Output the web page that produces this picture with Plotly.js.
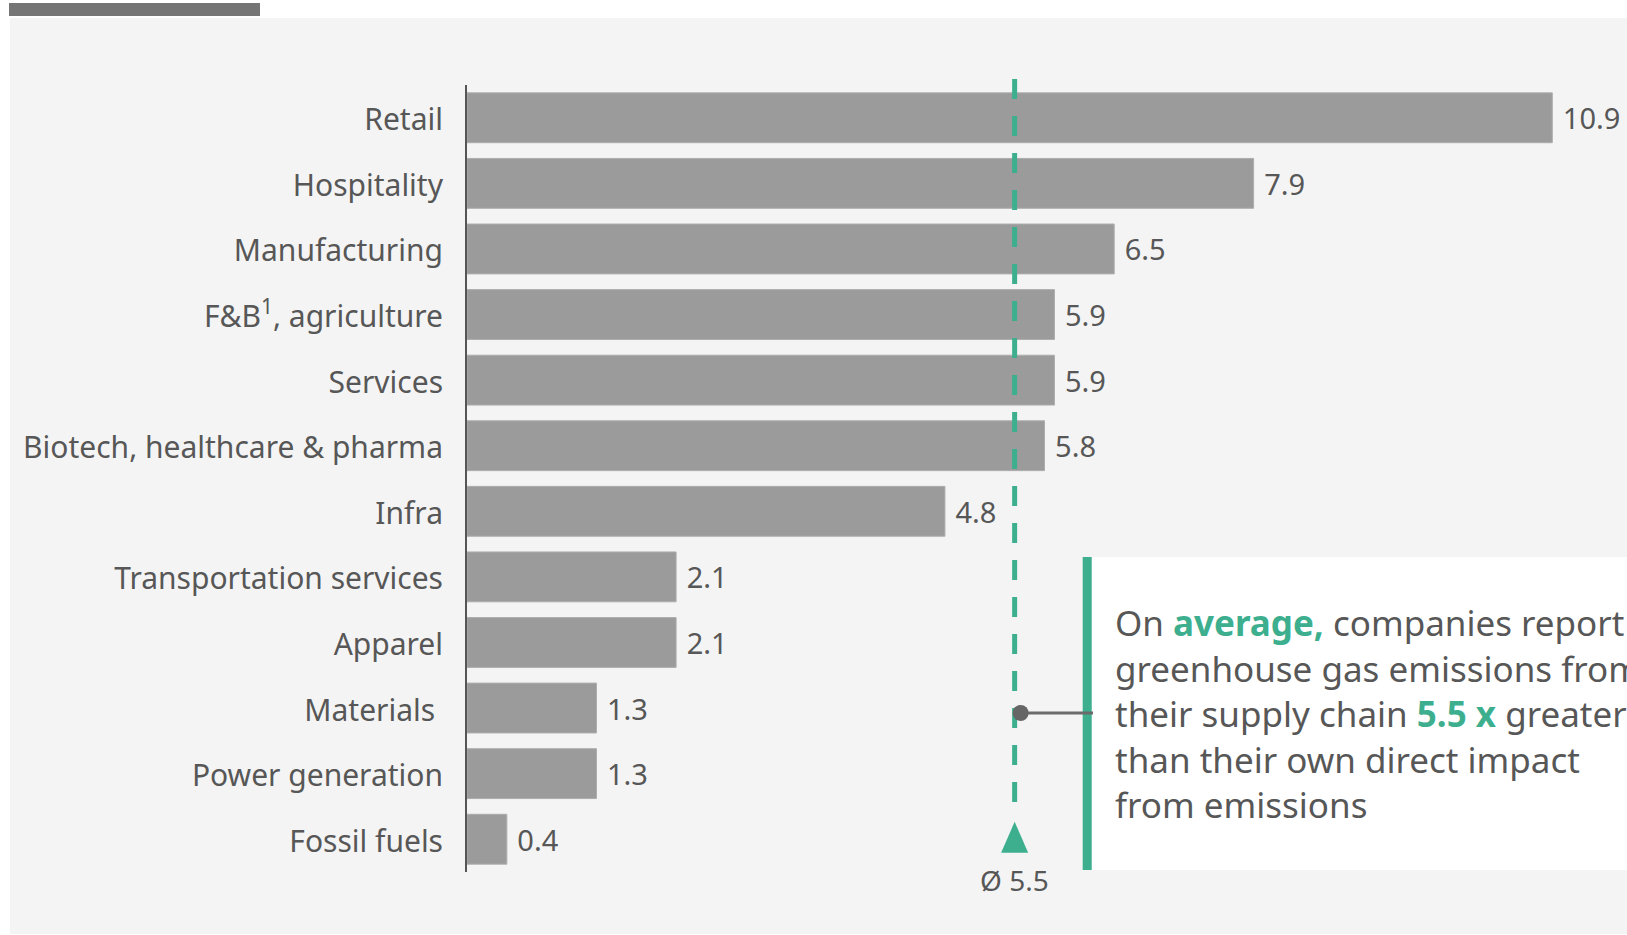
<!DOCTYPE html>
<html>
<head>
<meta charset="utf-8">
<script src="https://cdn.plot.ly/plotly-3.0.1.min.js"></script>
<style>
  html, body { margin: 0; padding: 0; background: #ffffff; }
  #chart { width: 1627px; height: 935px; }
</style>
</head>
<body>
<div id="chart"></div>
<script>
// ---- data ----
const categories = [
  "Retail",
  "Hospitality",
  "Manufacturing",
  "F&B<sup>1</sup>, agriculture",
  "Services",
  "Biotech, healthcare & pharma",
  "Infra",
  "Transportation services",
  "Apparel",
  "Materials\u00a0",
  "Power generation",
  "Fossil fuels"
];
const values = [10.9, 7.9, 6.5, 5.9, 5.9, 5.8, 4.8, 2.1, 2.1, 1.3, 1.3, 0.4];
const averageValue = 5.5;
const averageLabel = "Ø " + averageValue.toFixed(1);
const calloutLines = [
  "On <b><span style='color:#3daf8f'>average,</span></b> companies report",
  "greenhouse gas emissions from",
  "their supply chain <b><span style='color:#3daf8f'>" + averageValue.toFixed(1) + " x</span></b> greater",
  "than their own direct impact",
  "from emissions"
];

// ---- styling / layout helpers ----
const W = 1627, H = 935;
const M = { l: 467, r: 5, t: 85, b: 63 };
const plotW = W - M.l - M.r, plotH = H - M.t - M.b;
const xMax = 11.6;
const px = p => (p - M.l) / plotW;          // page pixel x -> paper
const py = p => (H - M.b - p) / plotH;       // page pixel y -> paper
const TEXT = "#575757";
const TEAL = "#3daf8f";
const FONT = "Noto Sans";

const bars = {
  type: "bar",
  orientation: "h",
  x: values,
  y: categories,
  width: 0.76,
  marker: { color: "#9b9b9b", line: { color: "#adadad", width: 1 } },
  texttemplate: "\u00a0%{x:.1f}",
  textposition: "outside",
  constraintext: "none",
  cliponaxis: false,
  textfont: { family: FONT, size: 29, color: TEXT },
  hoverinfo: "skip"
};

const shapes = [
  // grey panel
  { type: "rect", xref: "paper", yref: "paper", x0: px(10), x1: px(W + 5), y0: py(934), y1: py(18),
    fillcolor: "#f4f4f4", line: { width: 0 }, layer: "below" },
  // top dark bar
  { type: "rect", xref: "paper", yref: "paper", x0: px(9), x1: px(260), y0: py(16), y1: py(3),
    fillcolor: "#757575", line: { width: 0 }, layer: "below" },
  // callout white box
  { type: "rect", xref: "paper", yref: "paper", x0: px(1091.7), x1: px(W + 5), y0: py(870), y1: py(557),
    fillcolor: "#ffffff", line: { width: 0 }, layer: "below" },
  // callout teal bar
  { type: "rect", xref: "paper", yref: "paper", x0: px(1082.7), x1: px(1091.7), y0: py(870), y1: py(557),
    fillcolor: TEAL, line: { width: 0 }, layer: "below" },
  // average dashed line
  { type: "line", xref: "x", yref: "paper", x0: averageValue, x1: averageValue, y0: py(79), y1: py(812),
    line: { color: TEAL, width: 5, dash: "20px,17px" } },
  // connector
  { type: "line", xref: "paper", yref: "paper", x0: averageValue / xMax, x1: px(1093), y0: py(713), y1: py(713),
    line: { color: "#6b6b6b", width: 3 } },
  // dot
  { type: "circle", xref: "x", yref: "paper", xsizemode: "pixel", ysizemode: "pixel",
    xanchor: averageValue, yanchor: py(713), x0: -2, x1: 14, y0: -8, y1: 8,
    fillcolor: "#666666", line: { width: 0 } },
  // triangle
  { type: "path", xref: "x", yref: "paper", xsizemode: "pixel", ysizemode: "pixel",
    xanchor: averageValue, yanchor: py(852.7), path: "M-13.5,0 L13.5,0 L0,31 Z",
    fillcolor: TEAL, line: { width: 0 } }
];

const annotations = [
  { xref: "x", yref: "paper", x: averageValue, y: py(880), xanchor: "center", yanchor: "middle",
    text: averageLabel, showarrow: false, font: { family: FONT, size: 28, color: TEXT } },
  { xref: "paper", yref: "paper", x: px(1113), y: py(713), xanchor: "left", yanchor: "middle", align: "left",
    text: calloutLines.join("<br>"), showarrow: false, font: { family: FONT, size: 35, color: TEXT } }
];

const layout = {
  width: W, height: H,
  margin: M,
  paper_bgcolor: "#ffffff",
  plot_bgcolor: "rgba(0,0,0,0)",
  showlegend: false,
  bargap: 0.24,
  font: { family: FONT, color: TEXT },
  xaxis: { range: [0, xMax], visible: false, fixedrange: true },
  yaxis: {
    type: "category",
    range: [11.5, -0.5],
    showline: true, linecolor: "#555555", linewidth: 2,
    showgrid: false, zeroline: false,
    ticks: "", ticklabelstandoff: 16, ticklabelshift: -2,
    tickfont: { family: FONT, size: 30, color: TEXT },
    fixedrange: true
  },
  shapes: shapes,
  annotations: annotations
};

Plotly.newPlot("chart", [bars], layout, { displayModeBar: false, staticPlot: true });
</script>
</body>
</html>
